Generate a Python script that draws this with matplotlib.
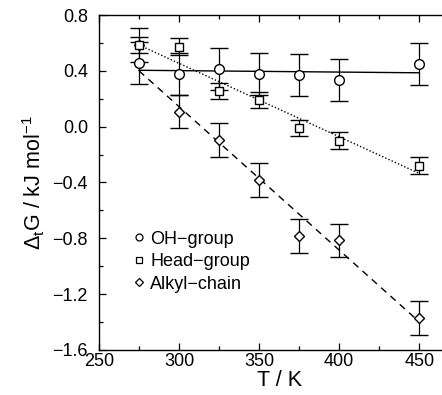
import numpy as np
import matplotlib
matplotlib.use('Agg')
import matplotlib.pyplot as plt

plt.rcParams['font.family'] = ['Liberation Sans', 'DejaVu Sans']
plt.rcParams['mathtext.fontset'] = 'custom'
plt.rcParams['mathtext.rm'] = 'Liberation Sans'
plt.rcParams['mathtext.it'] = 'Liberation Sans:italic'

# data
temps = [275, 300, 325, 350, 375, 400, 450]
oh_dg = [0.454, 0.375, 0.411, 0.377, 0.372, 0.334, 0.447]
oh_err = [0.15, 0.15, 0.15, 0.15, 0.15, 0.15, 0.15]
head_dg = [0.585, 0.573, 0.255, 0.191, -0.01, -0.101, -0.28]
head_err = [0.06, 0.06, 0.06, 0.06, 0.06, 0.06, 0.06]
alkyl_dg = [0.585, 0.107, -0.096, -0.383, -0.782, -0.815, -1.37]
alkyl_err = [0.12, 0.12, 0.12, 0.12, 0.12, 0.12, 0.12]

# fitted lines (end points)
fit_t = [275, 450]
oh_fit = [0.404, 0.386]
head_fit = [0.585, -0.335]
alkyl_fit = [0.40, -1.398]

fig = plt.figure(figsize=(4.42, 3.95), dpi=100)
ax = fig.add_axes([0.224, 0.114, 0.815, 0.848])

ax.plot(fit_t, oh_fit, color='black', lw=1.0, ls='-')
ax.plot(fit_t, head_fit, color='black', lw=1.0, ls=(0, (1, 1.5)))
ax.plot(fit_t, alkyl_fit, color='black', lw=1.0, ls=(0, (5, 4)))

eb = dict(color='black', ecolor='black', elinewidth=0.9, capsize=6.5, capthick=0.9,
          ls='none', mfc='white', mec='black', mew=1.0)
ax.errorbar(temps, alkyl_dg, yerr=alkyl_err, marker='D', ms=5, **eb)
ax.errorbar(temps, head_dg, yerr=head_err, marker='s', ms=6, **eb)
ax.errorbar(temps, oh_dg, yerr=oh_err, marker='o', ms=7, **eb)

# legend handles
h1, = ax.plot([], [], 'o', mfc='white', mec='black', ms=5, mew=0.9, label='OH\u2212group')
h2, = ax.plot([], [], 's', mfc='white', mec='black', ms=4.5, mew=0.9, label='Head\u2212group')
h3, = ax.plot([], [], 'D', mfc='white', mec='black', ms=4, mew=0.9, label='Alkyl\u2212chain')
ax.legend(handles=[h1, h2, h3], frameon=False, loc='upper left',
          bbox_to_anchor=(0.072, 0.383), fontsize=13, handlelength=0.6,
          handletextpad=0.3, labelspacing=0.3, borderpad=0)

ax.set_xlim(250, 475)
ax.set_ylim(-1.6, 0.8)
ax.set_xticks([250, 300, 350, 400, 450])
ax.set_xticks([275, 325, 375, 425], minor=True)
ax.set_yticks([-1.6, -1.2, -0.8, -0.4, 0.0, 0.4, 0.8])
ax.set_yticks([-1.4, -1.0, -0.6, -0.2, 0.2, 0.6], minor=True)
ax.set_yticklabels(['\u22121.6', '\u22121.2', '\u22120.8', '\u22120.4', '0.0', '0.4', '0.8'])
ax.tick_params(which='both', direction='in', top=True, right=False, labelsize=13, width=0.9)
ax.tick_params(which='major', length=5)
ax.tick_params(which='minor', length=3)
ax.tick_params(axis='y', pad=8)
ax.tick_params(axis='x', pad=2)
for s in ax.spines.values():
    s.set_linewidth(1.0)

ax.set_xlabel('T / K', fontsize=15.5, labelpad=0)
ax.set_ylabel(r'$\Delta_{\mathrm{t}}$G / kJ mol$^{-1}$', fontsize=15.5, labelpad=4)

fig.savefig('out.png', dpi=100)
